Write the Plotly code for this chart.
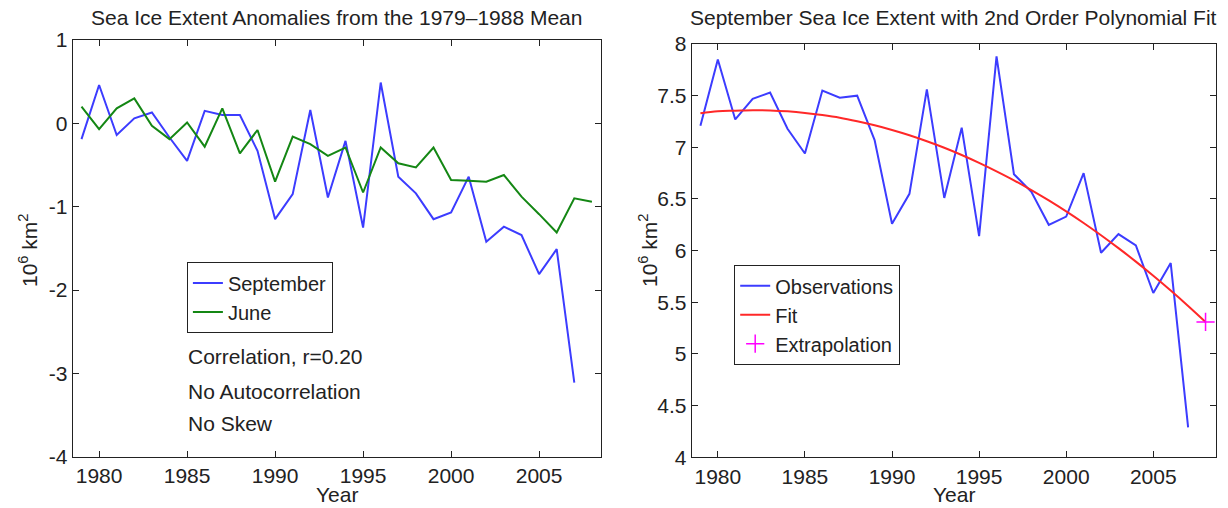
import plotly.graph_objects as go

# ---------------- data ----------------
years_sep = list(range(1979, 2008))
sep_anom = [-0.19, 0.46, -0.14, 0.06, 0.13, -0.17, -0.45, 0.15, 0.10, 0.10,
            -0.33, -1.15, -0.85, 0.16, -0.89, -0.21, -1.25, 0.49, -0.64, -0.84,
            -1.15, -1.07, -0.64, -1.42, -1.24, -1.34, -1.81, -1.51, -3.11]
years_jun = list(range(1979, 2009))
jun_anom = [0.20, -0.07, 0.18, 0.30, -0.03, -0.19, 0.01, -0.28, 0.18, -0.36,
            -0.08, -0.70, -0.16, -0.25, -0.39, -0.29, -0.83, -0.29, -0.48, -0.53,
            -0.29, -0.68, -0.69, -0.70, -0.62, -0.88, -1.09, -1.31, -0.90, -0.94]

years_obs = list(range(1979, 2008))
sep_extent = [7.21, 7.85, 7.27, 7.47, 7.53, 7.18, 6.94, 7.55, 7.48, 7.50,
              7.07, 6.26, 6.55, 7.56, 6.51, 7.19, 6.14, 7.88, 6.74, 6.57,
              6.25, 6.33, 6.75, 5.98, 6.16, 6.05, 5.59, 5.88, 4.29]
years_fit = list(range(1979, 2009))
fit_vals = [7.33, 7.35, 7.355, 7.36, 7.357, 7.348, 7.333, 7.312, 7.286, 7.252,
            7.213, 7.168, 7.117, 7.059, 6.996, 6.926, 6.850, 6.768, 6.681, 6.586,
            6.486, 6.380, 6.268, 6.149, 6.024, 5.894, 5.757, 5.614, 5.465, 5.31]
extrap_year = [2008]
extrap_val = [5.31]

x_ticks = [1980, 1985, 1990, 1995, 2000, 2005]
x_ticktext = ["1980", "1985", "1990", "1995", "2000", "2005"]
y1_ticks = [1, 0, -1, -2, -3, -4]
y1_ticktext = ["1", "0", "-1", "-2", "-3", "-4"]
y2_ticks = [4, 4.5, 5, 5.5, 6, 6.5, 7, 7.5, 8]
y2_ticktext = ["4", "4.5", "5", "5.5", "6", "6.5", "7", "7.5", "8"]

stats_text = ["Correlation, r=0.20", "No Autocorrelation", "No Skew"]

# ---------------- styling ----------------
W, H = 1228, 508
FONT = "Liberation Sans, Arial, Helvetica, sans-serif"
FS = 21
LFS = 20
TXT = "#222222"
BLUE = "rgb(60,60,255)"
GREEN = "rgb(20,135,20)"
RED = "rgb(255,40,40)"
MAG = "rgb(255,0,255)"

def px_x(p):
    return p / W

def px_y(p):
    return 1 - p / H

fig = go.Figure()

fig.add_trace(go.Scatter(x=years_sep, y=sep_anom, mode="lines", name="September",
                         line=dict(color=BLUE, width=2), xaxis="x", yaxis="y",
                         legend="legend"))
fig.add_trace(go.Scatter(x=years_jun, y=jun_anom, mode="lines", name="June",
                         line=dict(color=GREEN, width=2), xaxis="x", yaxis="y",
                         legend="legend"))

fig.add_trace(go.Scatter(x=years_obs, y=sep_extent, mode="lines", name="Observations",
                         line=dict(color=BLUE, width=2), xaxis="x2", yaxis="y2",
                         legend="legend2"))
fig.add_trace(go.Scatter(x=years_fit, y=fit_vals, mode="lines", name="Fit",
                         line=dict(color=RED, width=2, shape="spline"), xaxis="x2", yaxis="y2",
                         legend="legend2"))
fig.add_trace(go.Scatter(x=extrap_year, y=extrap_val, mode="markers", name="Extrapolation",
                         marker=dict(symbol="cross-thin", size=13, color=MAG,
                                     line=dict(color=MAG, width=1.5)),
                         xaxis="x2", yaxis="y2", legend="legend2", cliponaxis=False))

axis_common = dict(showline=True, linecolor="#222222", linewidth=1, mirror="ticks",
                   ticks="inside", ticklen=6, tickcolor="#222222", tickwidth=1,
                   showgrid=False, zeroline=False, automargin=False,
                   tickfont=dict(family=FONT, size=FS, color=TXT))

legend_common = dict(xanchor="left", yanchor="top", bgcolor="white",
                     bordercolor="#222222", borderwidth=1.2,
                     font=dict(family=FONT, size=LFS, color=TXT),
                     tracegroupgap=0, itemwidth=30)

fig.update_layout(
    width=W, height=H,
    margin=dict(l=0, r=0, t=0, b=0),
    paper_bgcolor="white", plot_bgcolor="white",
    font=dict(family=FONT, size=FS, color=TXT),
    xaxis=dict(domain=[px_x(72.7), px_x(600.7)], range=[1978.5, 2008.5],
               tickvals=x_ticks, ticktext=x_ticktext, anchor="y", **axis_common),
    yaxis=dict(domain=[px_y(456.7), px_y(40)], range=[-4, 1],
               tickvals=y1_ticks, ticktext=y1_ticktext, anchor="x", **axis_common),
    xaxis2=dict(domain=[px_x(691.7), px_x(1216)], range=[1978.5, 2008.6],
                tickvals=x_ticks, ticktext=x_ticktext, anchor="y2", **axis_common),
    yaxis2=dict(domain=[px_y(457.3), px_y(44)], range=[4, 8],
                tickvals=y2_ticks, ticktext=y2_ticktext, anchor="x2", **axis_common),
    legend=dict(x=px_x(186.7), y=px_y(262.3), **legend_common),
    legend2=dict(x=px_x(734), y=px_y(265), **legend_common),
    showlegend=True,
)

annotations = []
# titles
annotations.append(dict(text="Sea Ice Extent Anomalies from the 1979\u20131988 Mean",
                        x=px_x(336.7), y=px_y(17), xref="paper", yref="paper",
                        xanchor="center", yanchor="middle", showarrow=False,
                        font=dict(family=FONT, size=FS, color=TXT)))
annotations.append(dict(text="September Sea Ice Extent with 2nd Order Polynomial Fit",
                        x=px_x(953.9), y=px_y(17), xref="paper", yref="paper",
                        xanchor="center", yanchor="middle", showarrow=False,
                        font=dict(family=FONT, size=FS, color=TXT)))
# axis titles
for xc in (336.7, 953.9):
    annotations.append(dict(text="Year", x=px_x(xc), y=px_y(494), xref="paper", yref="paper",
                            xanchor="center", yanchor="middle", showarrow=False,
                            font=dict(family=FONT, size=FS, color=TXT)))
for xc in (28, 648):
    annotations.append(dict(text="10<sup>6</sup> km<sup>2</sup>", x=px_x(xc), y=px_y(250),
                            xref="paper", yref="paper", xanchor="center", yanchor="middle",
                            textangle=-90, showarrow=False,
                            font=dict(family=FONT, size=FS, color=TXT)))
# stats text
for t, yc in zip(stats_text, (356.7, 391.7, 423.3)):
    annotations.append(dict(text=t, x=px_x(186), y=px_y(yc), xref="paper", yref="paper",
                            xanchor="left", yanchor="middle", showarrow=False,
                            font=dict(family=FONT, size=FS, color=TXT)))

fig.update_layout(annotations=annotations)

fig.write_html("out.html",
               config={"displayModeBar": False},
               post_script="document.body.style.margin='0px';"
                           "document.body.style.overflow='hidden';")
